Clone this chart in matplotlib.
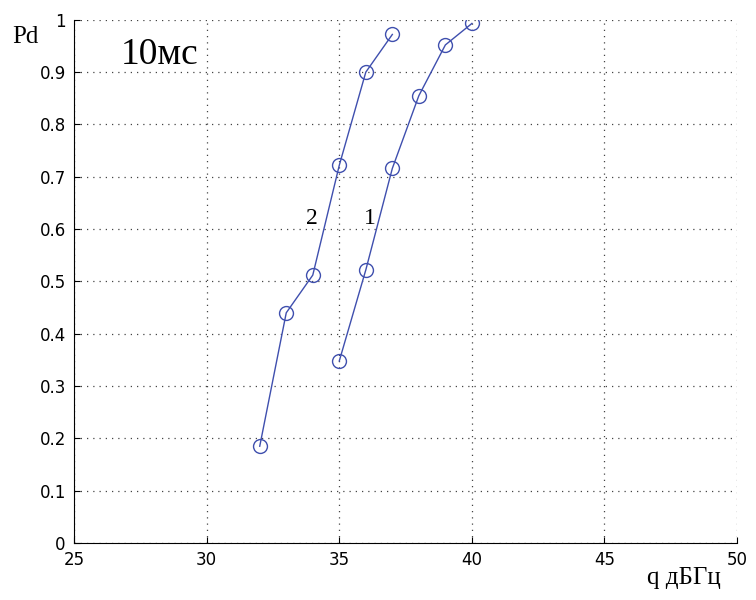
import numpy as np
import matplotlib
matplotlib.use('Agg')
import matplotlib.pyplot as plt

# curve 1
q1 = [35, 36, 37, 38, 39, 40]
pd1 = [0.348, 0.522, 0.716, 0.855, 0.952, 0.993]

# curve 2
q2 = [32, 33, 34, 35, 36, 37]
pd2 = [0.185, 0.440, 0.512, 0.722, 0.900, 0.972]

xticks = [25, 30, 35, 40, 45, 50]
yticks = [0, 0.1, 0.2, 0.3, 0.4, 0.5, 0.6, 0.7, 0.8, 0.9, 1]

blue = '#3f4fae'

fig = plt.figure(figsize=(7.56, 6), dpi=100)
ax = fig.add_axes([0.098, 0.095, 0.877, 0.872])

for q, pd in [(q1, pd1), (q2, pd2)]:
    ax.plot(q, pd, color=blue, linewidth=1.0, marker='o', markersize=10,
            markerfacecolor='none', markeredgecolor=blue, markeredgewidth=1.0)

ax.set_xlim(25, 50)
ax.set_ylim(0, 1)
ax.set_xticks(xticks)
ax.set_yticks(yticks)
ax.set_yticklabels([('%g' % v) for v in yticks])
ax.tick_params(direction='in', length=4, labelsize=12, pad=6)
for lab in ax.get_xticklabels() + ax.get_yticklabels():
    lab.set_family('DejaVu Sans')

ax.spines['top'].set_visible(False)
ax.spines['right'].set_visible(False)
ax.grid(True, linestyle=(0, (1, 4)), color='#444444', linewidth=0.9)

serif = 'Liberation Serif'
ax.text(33.97, 0.621, '2', fontsize=17, family=serif, ha='center', va='center')
ax.text(36.16, 0.621, '1', fontsize=17, family=serif, ha='center', va='center')
ax.text(28.24, 0.933, '10мс', fontsize=27, family=serif, ha='center', va='center')

fig.text(25 / 756, 1 - 37 / 600, 'Pd', fontsize=18, family=serif, ha='center', va='center')
fig.text(684 / 756, 1 - 578 / 600, 'q дБГц', fontsize=18, family=serif, ha='center', va='center')

fig.savefig('out.png', dpi=100)
